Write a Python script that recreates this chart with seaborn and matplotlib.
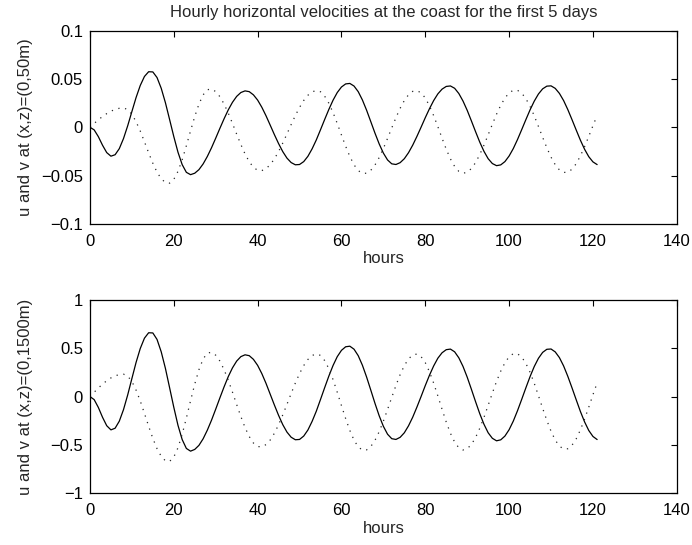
import numpy as np
import pandas as pd
import seaborn as sns
import matplotlib
matplotlib.use('Agg')
import matplotlib.pyplot as plt
from matplotlib.ticker import FuncFormatter

# hourly samples, first 5 days
hours = np.arange(0, 122)

# u (solid) and v (dotted) at (x,z)=(0,50m)
u_50 = [0.0, -0.0027, -0.0097, -0.0186, -0.0262, -0.0299, -0.0284, -0.0221, -0.0117, 0.0015,
        0.0162, 0.0307, 0.0432, 0.0525, 0.0574, 0.0572, 0.0514, 0.0403, 0.0254, 0.0080,
        -0.0096, -0.0258, -0.0386, -0.0466, -0.0490, -0.0475, -0.0438, -0.0379, -0.0302, -0.0212,
        -0.0113, -0.0011, 0.0088, 0.0180, 0.0258, 0.0319, 0.0359, 0.0376, 0.0368, 0.0335,
        0.0281, 0.0207, 0.0119, 0.0022, -0.0076, -0.0169, -0.0252, -0.0319, -0.0365, -0.0388,
        -0.0385, -0.0355, -0.0300, -0.0223, -0.0131, -0.0026, 0.0081, 0.0185, 0.0280, 0.0359,
        0.0416, 0.0448, 0.0453, 0.0426, 0.0368, 0.0282, 0.0176, 0.0058, -0.0061, -0.0172,
        -0.0267, -0.0338, -0.0378, -0.0385, -0.0366, -0.0325, -0.0263, -0.0185, -0.0095, 0.0001,
        0.0099, 0.0192, 0.0276, 0.0345, 0.0394, 0.0422, 0.0427, 0.0403, 0.0349, 0.0271,
        0.0175, 0.0066, -0.0046, -0.0154, -0.0249, -0.0325, -0.0375, -0.0397, -0.0389, -0.0355,
        -0.0297, -0.0220, -0.0127, -0.0025, 0.0079, 0.0180, 0.0270, 0.0344, 0.0397, 0.0425,
        0.0428, 0.0402, 0.0350, 0.0276, 0.0183, 0.0079, -0.0028, -0.0133, -0.0227, -0.0304,
        -0.0358, -0.0386]
v_50 = [0.0, 0.0039, 0.0077, 0.0111, 0.0141, 0.0166, 0.0185, 0.0196, 0.0200, 0.0183,
        0.0135, 0.0058, -0.0039, -0.0150, -0.0264, -0.0372, -0.0464, -0.0532, -0.0572, -0.0578,
        -0.0539, -0.0456, -0.0336, -0.0191, -0.0037, 0.0111, 0.0240, 0.0335, 0.0388, 0.0395,
        0.0369, 0.0316, 0.0240, 0.0146, 0.0040, -0.0071, -0.0178, -0.0276, -0.0356, -0.0414,
        -0.0445, -0.0448, -0.0428, -0.0387, -0.0327, -0.0251, -0.0163, -0.0069, 0.0028, 0.0121,
        0.0205, 0.0277, 0.0331, 0.0366, 0.0380, 0.0367, 0.0321, 0.0248, 0.0151, 0.0039,
        -0.0080, -0.0196, -0.0302, -0.0388, -0.0448, -0.0477, -0.0475, -0.0445, -0.0390, -0.0313,
        -0.0219, -0.0115, -0.0007, 0.0099, 0.0196, 0.0276, 0.0336, 0.0371, 0.0379, 0.0356,
        0.0303, 0.0221, 0.0120, 0.0006, -0.0113, -0.0227, -0.0327, -0.0405, -0.0456, -0.0476,
        -0.0465, -0.0427, -0.0365, -0.0282, -0.0185, -0.0078, 0.0031, 0.0135, 0.0227, 0.0302,
        0.0355, 0.0383, 0.0382, 0.0353, 0.0296, 0.0216, 0.0118, 0.0008, -0.0104, -0.0212,
        -0.0309, -0.0387, -0.0441, -0.0467, -0.0465, -0.0434, -0.0377, -0.0297, -0.0201, -0.0095,
        0.0016, 0.0122]

# u (solid) and v (dotted) at (x,z)=(0,1500m)
u_1500 = [0.0, -0.031, -0.112, -0.214, -0.301, -0.344, -0.327, -0.254, -0.135, 0.017,
          0.186, 0.353, 0.497, 0.604, 0.660, 0.658, 0.591, 0.463, 0.292, 0.092,
          -0.110, -0.297, -0.444, -0.536, -0.564, -0.546, -0.504, -0.436, -0.347, -0.244,
          -0.130, -0.013, 0.101, 0.207, 0.297, 0.367, 0.413, 0.432, 0.423, 0.385,
          0.323, 0.238, 0.137, 0.025, -0.087, -0.194, -0.290, -0.367, -0.420, -0.446,
          -0.443, -0.408, -0.345, -0.256, -0.151, -0.030, 0.093, 0.213, 0.322, 0.413,
          0.478, 0.515, 0.521, 0.490, 0.423, 0.324, 0.202, 0.067, -0.070, -0.198,
          -0.307, -0.389, -0.435, -0.443, -0.421, -0.374, -0.302, -0.213, -0.109, 0.001,
          0.114, 0.221, 0.317, 0.397, 0.453, 0.485, 0.491, 0.463, 0.401, 0.312,
          0.201, 0.076, -0.053, -0.177, -0.286, -0.374, -0.431, -0.457, -0.447, -0.408,
          -0.342, -0.253, -0.146, -0.029, 0.091, 0.207, 0.311, 0.396, 0.457, 0.489,
          0.492, 0.462, 0.403, 0.317, 0.210, 0.091, -0.032, -0.153, -0.261, -0.350,
          -0.412, -0.444]
v_1500 = [0.0, 0.045, 0.089, 0.129, 0.164, 0.193, 0.215, 0.227, 0.232, 0.212,
          0.157, 0.067, -0.045, -0.174, -0.306, -0.432, -0.538, -0.617, -0.664, -0.670,
          -0.625, -0.529, -0.390, -0.222, -0.043, 0.129, 0.278, 0.389, 0.450, 0.458,
          0.428, 0.367, 0.278, 0.169, 0.046, -0.082, -0.206, -0.320, -0.413, -0.480,
          -0.516, -0.520, -0.496, -0.449, -0.379, -0.291, -0.189, -0.080, 0.032, 0.140,
          0.238, 0.321, 0.384, 0.425, 0.441, 0.426, 0.372, 0.288, 0.175, 0.045,
          -0.093, -0.227, -0.350, -0.450, -0.520, -0.553, -0.551, -0.516, -0.452, -0.363,
          -0.254, -0.133, -0.008, 0.115, 0.227, 0.320, 0.390, 0.430, 0.440, 0.413,
          0.351, 0.256, 0.139, 0.007, -0.131, -0.263, -0.379, -0.470, -0.529, -0.552,
          -0.539, -0.495, -0.423, -0.327, -0.215, -0.090, 0.036, 0.157, 0.263, 0.350,
          0.412, 0.444, 0.443, 0.409, 0.343, 0.251, 0.137, 0.009, -0.121, -0.246,
          -0.358, -0.449, -0.512, -0.542, -0.539, -0.503, -0.437, -0.345, -0.233, -0.110,
          0.019, 0.142]

sns.set_style('white')
plt.rcParams['font.family'] = ['Liberation Sans', 'DejaVu Sans']
plt.rcParams['axes.unicode_minus'] = True
FS = 12
DOTS = (0, (1, 4.5))


def matlabFmt(v, pos):
    s = '%g' % round(v, 6)
    if s == '-0':
        s = '0'
    return s.replace('-', '\u2212')


def styleAxes(ax, ylim, yticks, ylabel):
    ax.set_xlim(0, 140)
    ax.set_ylim(*ylim)
    ax.set_xticks(range(0, 141, 20))
    ax.set_yticks(yticks)
    ax.yaxis.set_major_formatter(FuncFormatter(matlabFmt))
    ax.tick_params(direction='in', top=True, right=True, length=4, width=0.8,
                   labelsize=FS, colors='black', pad=5)
    ax.tick_params(axis='x', pad=7)
    for sp in ax.spines.values():
        sp.set_color('black')
        sp.set_linewidth(0.9)
    ax.set_xlabel('hours', fontsize=FS, labelpad=2)
    ax.set_ylabel(ylabel, fontsize=FS)
    ax.yaxis.set_label_coords(-0.097, 0.5)
    ax.grid(False)


fig = plt.figure(figsize=(6.92, 5.45), dpi=100)
ax1 = fig.add_axes([0.130, 0.589, 0.848, 0.355])
ax2 = fig.add_axes([0.130, 0.0948, 0.848, 0.355])

df1 = pd.DataFrame({'hours': hours, 'u': u_50, 'v': v_50})
df2 = pd.DataFrame({'hours': hours, 'u': u_1500, 'v': v_1500})

sns.lineplot(data=df1, x='hours', y='u', color='black', lw=0.9, ax=ax1)
sns.lineplot(data=df1, x='hours', y='v', color='0.15', lw=0.9, linestyle=DOTS, ax=ax1)
sns.lineplot(data=df2, x='hours', y='u', color='black', lw=0.9, ax=ax2)
sns.lineplot(data=df2, x='hours', y='v', color='0.15', lw=0.9, linestyle=DOTS, ax=ax2)

styleAxes(ax1, (-0.1, 0.1), [-0.1, -0.05, 0, 0.05, 0.1], 'u and v at (x,z)=(0,50m)')
styleAxes(ax2, (-1, 1), [-1, -0.5, 0, 0.5, 1], 'u and v at (x,z)=(0,1500m)')

ax1.set_title('Hourly horizontal velocities at the coast for the first 5 days',
              fontsize=FS, pad=10)

plt.savefig('out.png', dpi=100)
